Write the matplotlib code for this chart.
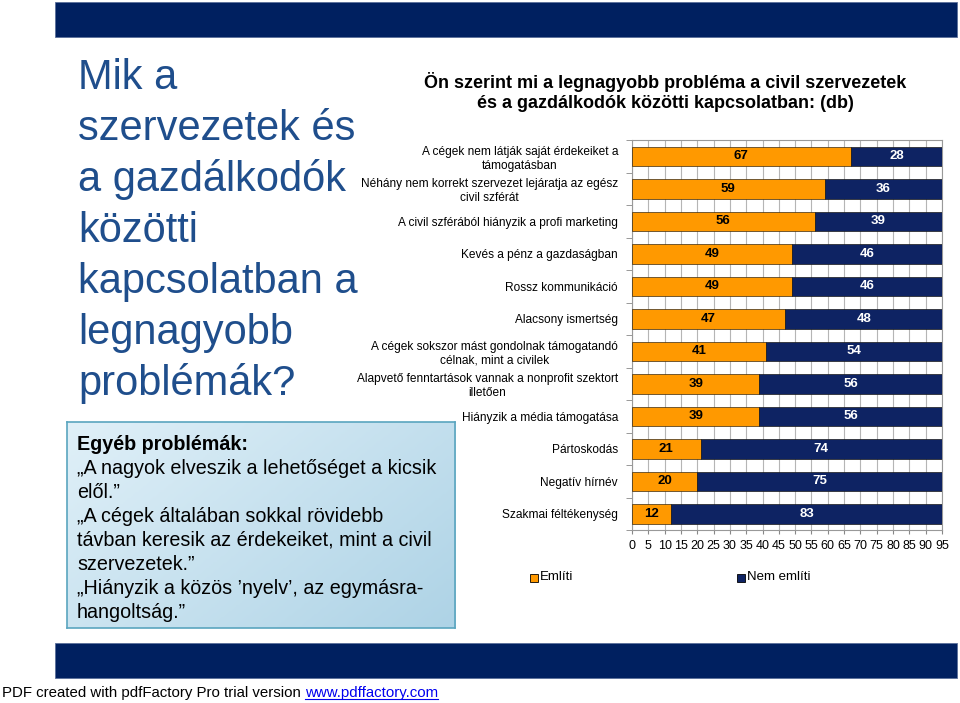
import numpy as np
import matplotlib
matplotlib.use("Agg")
import matplotlib.pyplot as plt
from matplotlib.patches import Rectangle
from matplotlib.lines import Line2D

plt.rcParams['font.family'] = ['Liberation Sans', 'DejaVu Sans']

# Adatok
kategoriak = [
    "A cégek nem látják saját érdekeiket a\ntámogatásban",
    "Néhány nem korrekt szervezet lejáratja az egész\ncivil szférát",
    "A civil szférából hiányzik a profi marketing",
    "Kevés a pénz a gazdaságban",
    "Rossz kommunikáció",
    "Alacsony ismertség",
    "A cégek sokszor mást gondolnak támogatandó\ncélnak, mint a civilek",
    "Alapvető fenntartások vannak a nonprofit szektort\nilletően",
    "Hiányzik a média támogatása",
    "Pártoskodás",
    "Negatív hírnév",
    "Szakmai féltékenység",
]
emliti = [67, 59, 56, 49, 49, 47, 41, 39, 39, 21, 20, 12]
nem_emliti = [28, 36, 39, 46, 46, 48, 54, 56, 56, 74, 75, 83]
x_tickek = list(range(0, 100, 5))

NARANCS = "#FF9900"
SOTETKEK = "#0E2363"
BANNER = "#002060"
CIMKEK = "#1F4E8C"

fig = plt.figure(figsize=(9.6, 7.03), dpi=100)

# Sávok fent és lent
fig.patches.append(Rectangle((0.0573, 0.947), 0.94, 0.0498, transform=fig.transFigure,
                             facecolor=BANNER, edgecolor="#5a6f9a", lw=0.6, zorder=0))
fig.patches.append(Rectangle((0.0573, 0.0356), 0.94, 0.0498, transform=fig.transFigure,
                             facecolor=BANNER, edgecolor="#5a6f9a", lw=0.6, zorder=0))

# Bal oldali cím
sorok = ["Mik a", "szervezetek és", "a gazdálkodók", "közötti",
         "kapcsolatban a", "legnagyobb", "problémák?"]
for i, s in enumerate(sorok):
    y = 1 - (89 + i * 51) / 703
    fig.text(78 / 960, y, s, fontsize=30, color=CIMKEK, ha="left", va="baseline")

# Szövegdoboz színátmenettel
box_ax = fig.add_axes([67 / 960, 1 - 628 / 703, (455 - 67) / 960, (628 - 422) / 703])
gx, gy = np.meshgrid(np.linspace(0, 1, 200), np.linspace(0, 1, 100))
grad = (gx * 0.6 + gy * 0.4)
box_ax.imshow(grad, cmap=matplotlib.colors.LinearSegmentedColormap.from_list(
    "kek", ["#e0f0f8", "#aed3e6"]), aspect="auto", extent=[0, 1, 0, 1])
box_ax.set_xticks([])
box_ax.set_yticks([])
for sp in box_ax.spines.values():
    sp.set_color("#5aa5bf")
    sp.set_linewidth(1.2)

doboz_sorok = ["Egyéb problémák:",
               "\u201eA nagyok elveszik a lehetőséget a kicsik",
               "elől.\u201d",
               "\u201eA cégek általában sokkal rövidebb",
               "távban keresik az érdekeiket, mint a civil",
               "szervezetek.\u201d",
               "\u201eHiányzik a közös \u2019nyelv\u2019, az egymásra-",
               "hangoltság.\u201d"]
for i, s in enumerate(doboz_sorok):
    y = 1 - (450 + i * 24) / 703
    fig.text(77 / 960, y, s, fontsize=14.2, color="black", ha="left", va="baseline",
             fontweight="bold" if i == 0 else "normal")

# Diagram címe
fig.text(665 / 960, 1 - 88 / 703, "Ön szerint mi a legnagyobb probléma a civil szervezetek",
         fontsize=13, fontweight="bold", ha="center", va="baseline")
fig.text(665 / 960, 1 - 108 / 703, "és a gazdálkodók közötti kapcsolatban: (db)",
         fontsize=13, fontweight="bold", ha="center", va="baseline")

# Diagram
ax = fig.add_axes([632 / 960, 1 - 530 / 703, 310 / 960, 390 / 703])
y = np.arange(len(kategoriak))
ax.barh(y, emliti, height=0.6, color=NARANCS, edgecolor="#3a2a10", lw=0.5, zorder=3)
ax.barh(y, nem_emliti, left=emliti, height=0.6, color=SOTETKEK, edgecolor="#1a1a1a",
        lw=0.5, zorder=3)

for i, (a, b) in enumerate(zip(emliti, nem_emliti)):
    ax.text(a / 2, i, str(a), ha="center", va="center", fontsize=9.5, fontweight="bold",
            color="black", zorder=4)
    ax.text(a + b / 2, i, str(b), ha="center", va="center", fontsize=9.5, fontweight="bold",
            color="white", zorder=4)

ax.set_xlim(0, 95)
ax.set_ylim(len(kategoriak) - 0.5, -0.5)
ax.set_xticks(x_tickek)
ax.set_xticklabels([str(t) for t in x_tickek], fontsize=9)
ax.set_yticks(y)
ax.set_yticklabels(kategoriak, fontsize=8.6, multialignment="center")
ax.set_yticks(np.arange(-0.5, len(kategoriak), 1), minor=True)
ax.tick_params(axis="y", which="major", length=0, pad=10)
ax.tick_params(axis="y", which="minor", length=4, color="#888888")
ax.tick_params(axis="x", length=3, color="#888888", pad=4)
ax.grid(axis="x", color="#b5b5b5", lw=0.8, zorder=0)
for sp in ax.spines.values():
    sp.set_color("#999999")
    sp.set_linewidth(0.8)

# Jelmagyarázat
fig.text(540 / 960, 1 - 577 / 703, "Említi", fontsize=9.5, ha="left", va="center")
fig.text(747 / 960, 1 - 577 / 703, "Nem említi", fontsize=9.5, ha="left", va="center")
fig.patches.append(Rectangle((530 / 960, 1 - 582 / 703), 8 / 960, 8 / 703,
                             transform=fig.transFigure, facecolor=NARANCS,
                             edgecolor="black", lw=0.6))
fig.patches.append(Rectangle((737 / 960, 1 - 582 / 703), 8 / 960, 8 / 703,
                             transform=fig.transFigure, facecolor=SOTETKEK,
                             edgecolor="black", lw=0.6))

# Lábléc
t1 = fig.text(2 / 960, 1 - 697 / 703, "PDF created with pdfFactory Pro trial version ",
              fontsize=10.8, ha="left", va="baseline")
renderer = fig.canvas.get_renderer()
bb = t1.get_window_extent(renderer)
x2 = bb.x1 / fig.bbox.width
t2 = fig.text(x2, 1 - 697 / 703, "www.pdffactory.com", fontsize=10.8, color="#0000EE",
              ha="left", va="baseline")
bb2 = t2.get_window_extent(renderer)
fig.add_artist(Line2D([bb2.x0 / fig.bbox.width, bb2.x1 / fig.bbox.width],
                      [1 - 699 / 703, 1 - 699 / 703], color="#0000EE", lw=0.8,
                      transform=fig.transFigure))

fig.savefig("out.png", dpi=100)
